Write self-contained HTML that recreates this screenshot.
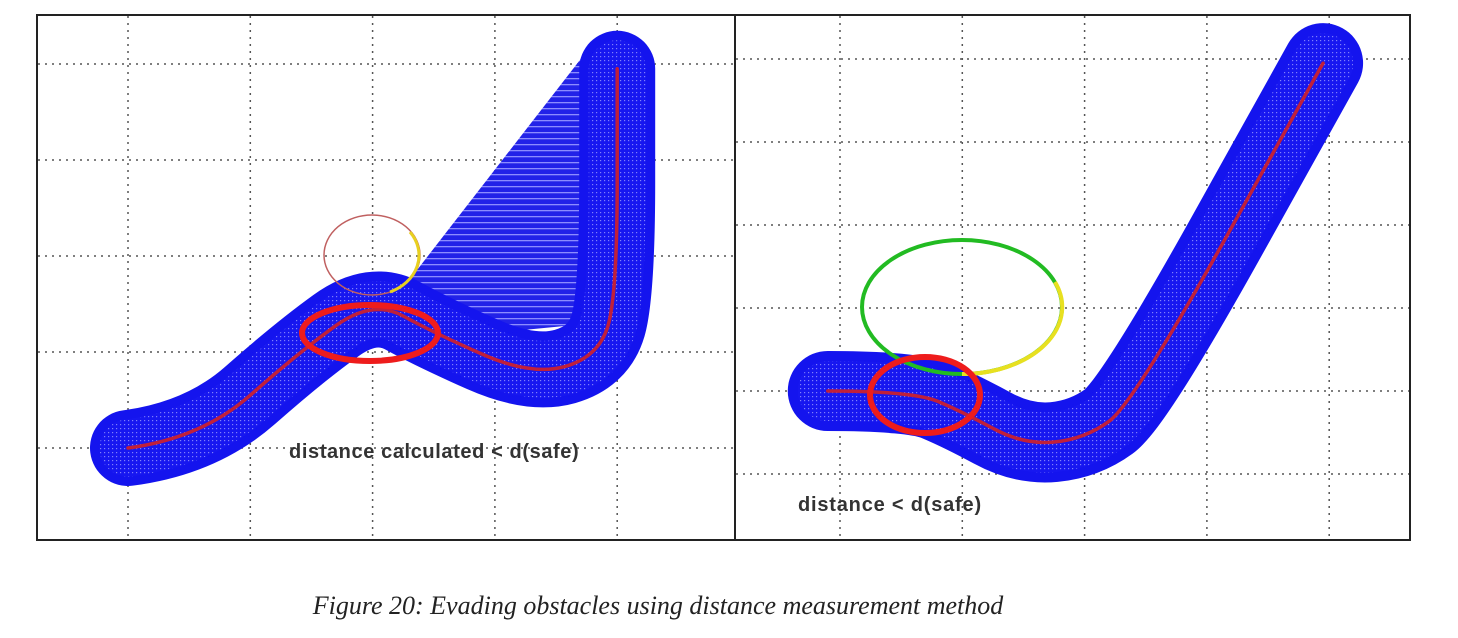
<!DOCTYPE html>
<html><head><meta charset="utf-8"><style>
html,body{margin:0;padding:0;background:#fff;}
svg{display:block;}
</style></head><body>
<svg width="1458" height="638" viewBox="0 0 1458 638">
<defs>
<pattern id="mesh" width="4" height="4" patternUnits="userSpaceOnUse">
<rect width="4" height="4" fill="#1818f0"/><rect x="0" y="0" width="1.2" height="1.2" fill="#9a9aff"/>
</pattern>
<pattern id="fanmesh" width="6" height="6" patternUnits="userSpaceOnUse">
<rect width="6" height="6" fill="#2222e8"/><rect x="0" y="0" width="6" height="1.3" fill="#8c8cff"/>
</pattern>
</defs>
<rect x="37" y="15" width="1373" height="525" fill="#fff" stroke="#222" stroke-width="2"/>
<line x1="735" y1="15" x2="735" y2="540" stroke="#222" stroke-width="2"/>
<g id="grids"></g>
<g id="left"></g>
<g id="right"></g>
<text x="289" y="458" font-family="Liberation Sans, sans-serif" font-weight="bold" font-size="20" letter-spacing="0.6" fill="#333">distance calculated &lt; d(safe)</text>
<text x="798" y="511" font-family="Liberation Sans, sans-serif" font-weight="bold" font-size="20" letter-spacing="0.8" fill="#333">distance &lt; d(safe)</text>
<text x="658" y="614" text-anchor="middle" font-family="Liberation Serif, serif" font-style="italic" font-size="26" fill="#222">Figure 20: Evading obstacles using distance measurement method</text>
</svg>
<script>
// Left panel grid units
const leftGridX=[0,1,2,3,4];
const leftGridY=[0,1,2,3,4];
const leftPath=[[0,0],[0.6,0.1],[1.4,1.0],[2.0,1.55],[2.5,1.2],[3.3,0.75],[3.85,0.95],[4,1.6],[4,3.95]];
// Right panel grid units
const rightGridX=[0,1,2,3,4];
const rightGridY=[0,1,2,3,4,5];
const rightPath=[[-0.1,1.0],[0.6,1.0],[1.0,0.75],[1.5,0.35],[2.0,0.42],[2.4,0.85],[3.95,4.95]];
const NS='http://www.w3.org/2000/svg';
const lx=u=>128+u*122.3, ly=v=>448-v*96;
const rx=u=>840+u*122.3, ry=v=>474-v*83;
function mk(tag,attrs,parent){const e=document.createElementNS(NS,tag);for(const k in attrs)e.setAttribute(k,attrs[k]);parent.appendChild(e);return e;}
const grids=document.getElementById('grids');
const gs={stroke:'#555','stroke-width':1.5,'stroke-dasharray':'2 5'};
leftGridX.forEach(u=>{const e=mk('line',Object.assign({x1:lx(u),x2:lx(u),y1:16,y2:539},gs),grids);

});
leftGridY.forEach(v=>{const e=mk('line',Object.assign({x1:38,x2:734,y1:ly(v),y2:ly(v)},gs),grids);

});
rightGridX.forEach(u=>{const e=mk('line',Object.assign({x1:rx(u),x2:rx(u),y1:16,y2:539},gs),grids);

});
rightGridY.forEach(v=>{const e=mk('line',Object.assign({x1:736,x2:1409,y1:ry(v),y2:ry(v)},gs),grids);

});
function smooth(pts){let d='M'+pts[0][0]+','+pts[0][1];for(let i=1;i<pts.length-1;i++){const m=[(pts[i][0]+pts[i+1][0])/2,(pts[i][1]+pts[i+1][1])/2];d+=' Q'+pts[i][0]+','+pts[i][1]+' '+m[0]+','+m[1];}const l=pts[pts.length-1];d+=' L'+l[0]+','+l[1];return d;}
function tube(g,pts,w,name){
 const d=smooth(pts);
 let e=mk('path',{d:d,fill:'none',stroke:'#1414ee','stroke-width':w,'stroke-linecap':'round','stroke-linejoin':'round'},g);
 
 
 e=mk('path',{d:d,fill:'none',stroke:'url(#mesh)','stroke-width':w*0.75,'stroke-linecap':'round',opacity:0.8},g);
 
 
 e=mk('path',{d:d,fill:'none',stroke:'#c0203a','stroke-width':3.5,'stroke-linecap':'round'},g);
 
 
}
const L=document.getElementById('left');
let fan=mk('polygon',{points:[[lx(2.3),ly(1.75)],[lx(3.7),ly(4.05)],[lx(3.8),ly(1.3)],[lx(3.0),ly(1.2)]].map(p=>p.join(',')).join(' '),fill:'url(#fanmesh)'},L);


tube(L,leftPath.map(p=>[lx(p[0]),ly(p[1])]),76,'left-tube');
let e=mk('ellipse',{cx:372,cy:255,rx:48,ry:40,fill:'none',stroke:'#c06060','stroke-width':1.5},L);


e=mk('path',{d:'M410,232 A48,40 0 0 1 390,292',fill:'none',stroke:'#e8d020','stroke-width':3},L);


e=mk('ellipse',{cx:370,cy:333,rx:68,ry:28,fill:'none',stroke:'#ee1c1c','stroke-width':6},L);


const R=document.getElementById('right');
tube(R,rightPath.map(p=>[rx(p[0]),ry(p[1])]),80,'right-tube');
e=mk('ellipse',{cx:962,cy:307,rx:100,ry:67,fill:'none',stroke:'#22bb22','stroke-width':4},R);


e=mk('path',{d:'M1055,282 A100,67 0 0 1 962,374',fill:'none',stroke:'#e8e020','stroke-width':4},R);


e=mk('ellipse',{cx:925,cy:395,rx:55,ry:38,fill:'none',stroke:'#ee1c1c','stroke-width':6},R);


</script>
</body></html>
